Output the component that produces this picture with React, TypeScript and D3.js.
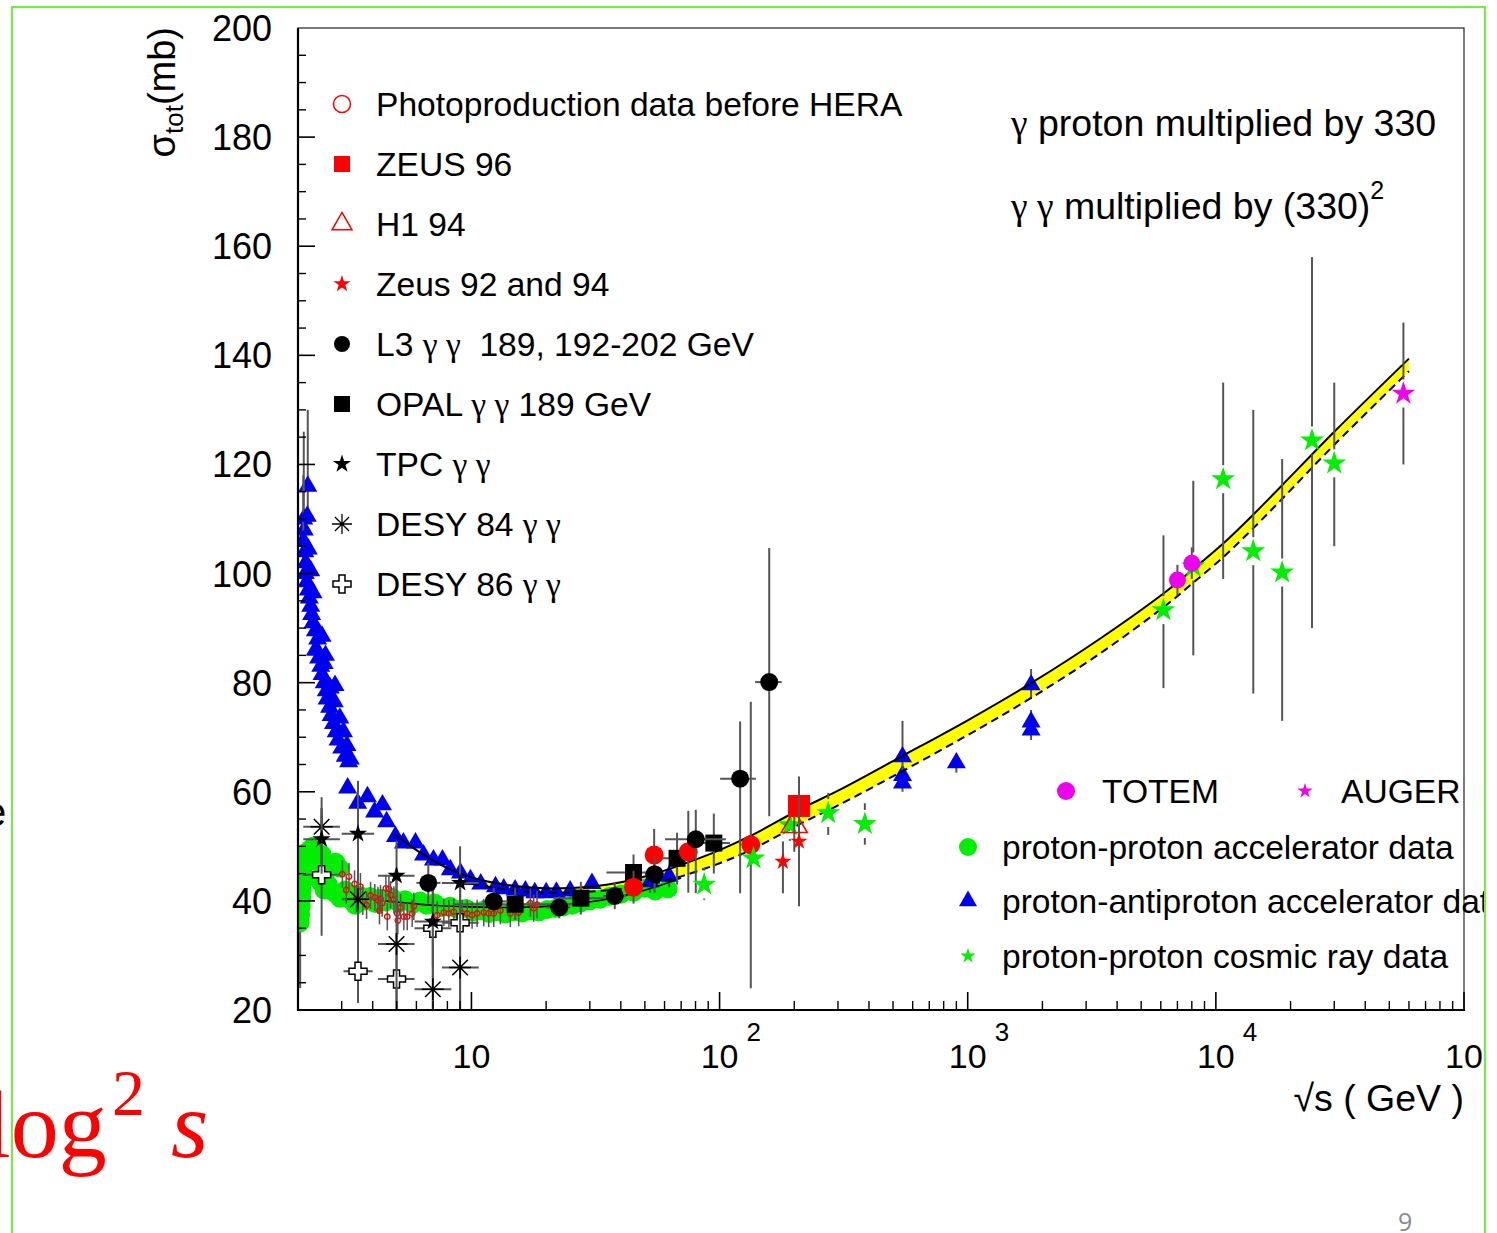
import React from 'react';
import * as d3 from 'd3';

// ---------------- DATA (√s in GeV, σ in mb) ----------------
// proton-proton accelerator data (green circles): [sqrtS, sigma, errLo, errHi]
const ppAccel: number[][] = [
  [2.04, 36.0, 24.0, 38.0], [2.05, 37.5], [2.06, 39.0], [2.07, 40.5], [2.08, 42.0], [2.09, 43.5], [2.1, 45.0],
  [2.12, 46.5], [2.14, 48.0], [2.17, 49.0], [2.2, 47.5], [2.24, 49.5], [2.3, 50.0], [2.36, 48.5], [2.42, 47.0],
  [2.5, 48.5], [2.58, 47.0], [2.7, 46.0], [2.84, 47.1], [2.95, 46.0], [2.45, 43.5], [2.55, 42.0], [2.65, 43.0],
  [2.8, 41.5], [2.95, 40.5], [3.1, 42.0], [3.25, 40.2], [3.4, 39.2], [3.55, 41.0], [3.7, 40.0], [3.9, 40.8],
  [4.1, 39.5], [4.3, 40.5], [4.5, 39.8], [4.8, 40.6], [5.1, 39.6], [5.4, 40.2], [5.8, 39.4], [6.2, 40.0],
  [6.6, 39.2], [7.1, 39.6], [7.6, 38.8], [8.2, 39.0], [8.8, 38.4], [9.5, 38.6], [10.2, 38.0], [11.0, 38.2],
  [11.8, 37.7], [12.7, 38.0], [13.7, 37.6], [14.8, 38.0], [16.0, 37.8], [17.3, 38.2], [18.7, 38.0], [20.2, 38.4],
  [21.8, 38.6], [23.5, 38.9], [25.5, 39.2], [27.5, 39.6], [30.0, 40.0], [33, 40.3], [36, 40.8], [40, 41.2],
  [45, 41.6], [50, 42.3], [55, 41.8], [62, 42.2],
];

// proton-antiproton accelerator data (blue triangles): [sqrtS, sigma, errLo, errHi]
const ppbarAccel: number[][] = [
  [2.19, 116.0, 110, 130], [2.11, 110.0, 100, 126], [2.12, 108.0], [2.1, 106.0, 98, 118], [2.13, 104.0], [2.15, 102.0],
  [2.14, 100.0], [2.17, 98.5], [2.2, 97.0], [2.22, 95.5], [2.25, 94.0], [2.27, 92.5], [2.3, 91.0],
  [2.35, 89.5], [2.4, 88.0], [2.38, 86.0], [2.42, 84.5], [2.47, 83.0], [2.5, 81.5], [2.55, 80.0],
  [2.6, 78.5], [2.62, 77.0], [2.68, 75.5], [2.72, 74.0], [2.78, 72.5], [2.85, 71.0], [2.9, 69.5],
  [3.0, 68.0], [3.1, 66.5], [3.2, 65.5], [2.18, 110.5], [2.2, 104.5], [2.25, 100.5], [2.3, 96.5],
  [2.5, 88.5], [2.35, 86.0], [2.55, 83.5], [2.7, 79.0], [2.8, 76.5], [2.95, 73.5], [3.05, 71.0],
  [3.15, 68.5], [3.25, 66.0], [2.58, 85.0], [2.82, 79.5],
  [3.17, 60.7], [3.48, 57.9], [3.81, 59.1], [4.07, 56.3],
  [4.38, 57.6], [4.55, 54.5], [4.94, 51.8], [5.32, 50.6], [5.95, 50.6], [6.41, 48.4], [7.03, 47.5],
  [7.64, 47.5], [8.22, 45.7], [9.03, 45.1], [9.91, 43.9], [10.9, 43.1], [12.5, 42.6], [13.5, 42.2],
  [15, 42.0], [16.5, 41.8], [18, 41.5], [20, 41.5], [22, 41.6], [25, 41.8], [30.6, 43.2],
  [52.5, 43.5, 41.5, 45.5], [62.6, 44.5, 42.5, 46.5], [546, 61.6, 60, 63.5], [546, 63.0], [546, 66.4, 64, 73],
  [900, 65.3, 63.5, 67], [1800, 79.6, 77, 82.5], [1800, 72.8, 71, 75], [1800, 71.3, 69.5, 73],
];

// proton-proton cosmic ray data (green stars): [sqrtS, sigma, errLo, errHi]
const ppCosmic: number[][] = [
  [86.7, 43.0, 40.2, 46.0], [137, 47.8, 46.0, 50.0], [192, 53.9, 51.0, 57.0], [274, 56.1, 52.1, 59.8],
  [385, 54.1, 50.3, 57.9], [6150, 93.3, 79, 107], [8110, 101.3, 85, 117], [10700, 117.3, 99, 135],
  [14150, 104.1, 78, 130], [18500, 100.2, 73, 121], [24400, 124.4, 90, 158], [30000, 120.2, 105, 135],
];

// TOTEM (magenta circles) and AUGER (magenta star): [sqrtS, sigma, errLo, errHi]
const totem: number[][] = [[7000, 98.8, 96.0, 101.6], [8000, 101.9, 99.0, 104.8]];
const auger: number[][] = [[57000, 133.0, 120, 146]];

// γ proton × 330
const photoBeforeHera: number[][] = [
  [3.02, 44.9], [3.21, 44.45], [3.38, 43.1], [3.57, 42.6], [3.13, 42.0], [3.44, 40.4], [3.65, 39.9],
  [3.78, 39.2], [3.92, 41.0], [4.08, 40.6], [4.2, 40.1], [4.3, 40.4], [4.37, 39.6], [4.52, 42.3],
  [4.65, 42.2], [4.72, 41.1], [4.87, 40.2], [4.26, 38.2], [4.58, 37.1], [5.02, 37.7], [5.05, 36.4],
  [5.18, 38.8], [5.34, 37.1], [5.51, 37.1], [5.77, 37.7], [5.86, 39.0], [7.28, 37.4], [7.74, 37.85],
  [8.11, 37.7], [8.49, 38.0], [9.17, 37.7], [9.61, 37.7], [10.06, 37.4], [10.54, 37.7], [11.21, 37.85],
  [11.74, 37.7], [12.3, 37.7], [13.08, 38.2], [14.35, 37.7], [15.5, 37.85], [17.28, 39.6], [18.38, 39.3],
  [17.82, 38.65],
];
const zeus96: number[][] = [[209, 57.4, 53.0, 62.0]];
const h1_94: number[][] = [[200, 53.9, 49.0, 58.5]];
const zeus92_94: number[][] = [[180, 47.2, 41.4, 50.9], [209, 50.9, 39.0, 62.8]];
const redCircles: number[][] = [[45, 42.5, 39.5, 45.5], [54.5, 48.4, 43.5, 53.2], [74.8, 49.0, 41.5, 56.5], [133.6, 50.3, 24.0, 76.5]];

// γ γ × 330²: [sqrtS, sigma, errLo, errHi, sqrtSLo, sqrtSHi]
const l3: number[][] = [
  [6.7, 43.3, 39.5, 47.0, 6.0, 7.5], [12.3, 39.9, 37.5, 42.3, 11, 14], [22.6, 38.8, 36.8, 40.8, 20, 25],
  [37.8, 40.9, 38.5, 43.3, 34, 42], [54.7, 44.9, 41.5, 48.3, 50, 60], [80.2, 51.3, 41.4, 56.7, 60.3, 106],
  [121, 62.4, 41.4, 72.9, 100.5, 140], [158.5, 80.1, 55.5, 104.7, 139, 178],
];
const opal: number[][] = [
  [15.0, 39.4, 36.5, 42.3, 8.4, 25.7], [27.6, 40.5, 37.5, 43.5, 21.4, 36.2], [45, 45.2, 41.5, 48.5, 35, 55],
  [67.4, 47.8, 43.0, 52.5, 55, 80], [94.8, 50.6, 45.0, 56.0, 80, 110],
];
const tpc: number[][] = [
  [2.49, 51.3, 45, 57, 2.1, 2.95], [3.49, 52.3, 44, 60, 3.0, 4.05], [4.99, 44.6, 38, 51, 4.2, 5.9],
  [6.99, 36.2, 28, 44.5, 5.9, 8.3], [9.0, 43.3, 36, 50, 7.6, 10.7],
];
const desy84: number[][] = [
  [2.49, 53.6, 47, 59, 2.1, 2.95], [3.49, 40.3, 30, 62, 3.0, 4.05], [4.99, 32.1, 20, 45.8, 4.2, 5.9],
  [6.99, 23.8, 10, 40, 5.9, 8.3], [9.0, 27.8, 10, 45.8, 7.6, 10.7],
];
const desy86: number[][] = [
  [2.49, 44.8, 33.6, 57, 2.1, 2.95], [3.49, 27.1, 21.3, 36, 3.05, 4.0], [4.99, 25.7, 18, 34, 4.2, 5.9],
  [6.99, 35.0, 20, 44.5, 5.9, 8.3], [9.0, 36.0, 20, 45.8, 7.6, 10.7],
];

// Fit curves
const fitSqrtS = [10, 14, 18, 23, 30, 40, 53, 70, 100, 133, 211, 300, 532, 1000, 1800, 3400, 6300, 8000, 10700, 14000, 18500, 30000, 60000];
const fitUpper = [44.3, 42.9, 42.4, 42.3, 42.6, 43.4, 44.8, 46.6, 49.3, 51.9, 56.8, 60.2, 66.3, 73.1, 79.9, 88.0, 96.7, 100.6, 105.5, 110.6, 116.2, 126.0, 139.4];
const fitLower = [43.2, 42.0, 41.6, 41.5, 41.7, 42.2, 43.1, 44.5, 46.9, 49.3, 54.1, 57.5, 63.5, 70.4, 77.2, 85.3, 94.2, 98.1, 103.0, 108.1, 113.7, 123.6, 137.1];
const ppbarLowSqrtS = [4.9, 5.5, 6.6, 8];
const ppbarLowSigma = [52.2, 50.5, 48.1, 46.0];
const ppLowSqrtS = [4.5, 5.5, 7, 10, 14, 20, 28, 40, 53, 70];
const ppLowSigma = [40.0, 39.6, 39.2, 38.9, 38.8, 39.0, 39.6, 40.8, 42.3, 44.2];

// Axis ticks
const yTicks = [20, 40, 60, 80, 100, 120, 140, 160, 180, 200];
const xDecades = [1, 2, 3, 4, 5];

// ---------------- LAYOUT ----------------
const W = 1497, H = 1233;
const L = 298, R = 1464, T = 28, B = 1010;
const x = d3.scaleLog().domain([2, 1e5]).range([L, R]);
const y = d3.scaleLinear().domain([20, 200]).range([B, T]);

const FONT = "'Liberation Sans', Arial, Helvetica, sans-serif";
const SERIF = "'Liberation Serif', 'Times New Roman', serif";
const ERR = '#555';

const sym = (type: d3.SymbolType, size: number) => d3.symbol().type(type).size(size)() as string;
const circ = (r: number) => sym(d3.symbolCircle, Math.PI * r * r);
const sq = (s: number) => sym(d3.symbolSquare, s * s);
const tri = (side: number) => sym(d3.symbolTriangle, (Math.sqrt(3) / 4) * side * side);
const star = (R0: number) => sym(d3.symbolStar, (R0 * R0) / 0.8908130915292852);
const cross = (w: number) => sym(d3.symbolCross, Math.pow(w / 3, 2) * 5);
const asterisk = (r: number) => {
  const a = r * 0.7071;
  return `M${-r},0L${r},0M0,${-r}L0,${r}M${-a},${-a}L${a},${a}M${-a},${a}L${a},${-a}`;
};

type MarkerStyle = { d: string; fill: string; stroke?: string; sw?: number };

function Series({ data, m, gap = 0, errW = 2 }: { data: number[][]; m: MarkerStyle; gap?: number; errW?: number }) {
  return (
    <g>
      {data.map((p, i) => {
        const cx = x(p[0]), cy = y(p[1]);
        const parts: JSX.Element[] = [];
        if (p.length >= 4) {
          const y1 = y(p[2]), y2 = y(p[3]);
          if (gap > 0) {
            if (y1 > cy + gap) parts.push(<line key="a" x1={cx} x2={cx} y1={cy + gap} y2={y1} stroke={ERR} strokeWidth={errW} />);
            if (y2 < cy - gap) parts.push(<line key="b" x1={cx} x2={cx} y1={y2} y2={cy - gap} stroke={ERR} strokeWidth={errW} />);
          } else {
            parts.push(<line key="a" x1={cx} x2={cx} y1={y1} y2={y2} stroke={ERR} strokeWidth={errW} />);
          }
        }
        if (p.length >= 6) {
          parts.push(<line key="c" x1={x(p[4])} x2={x(p[5])} y1={cy} y2={cy} stroke={ERR} strokeWidth={errW} />);
        }
        return (
          <g key={i}>
            {parts}
            <path d={m.d} transform={`translate(${cx},${cy})`} fill={m.fill} stroke={m.stroke || 'none'} strokeWidth={m.sw || 0} />
          </g>
        );
      })}
    </g>
  );
}

function Marker({ cx, cy, m }: { cx: number; cy: number; m: MarkerStyle }) {
  return <path d={m.d} transform={`translate(${cx},${cy})`} fill={m.fill} stroke={m.stroke || 'none'} strokeWidth={m.sw || 0} />;
}

const M = {
  green: { d: circ(9.5), fill: '#00ee00' },
  blue: { d: tri(19), fill: '#0000ee' },
  cosmic: { d: star(12.5), fill: '#00ee00' },
  totem: { d: circ(8.5), fill: '#ee00ee' },
  auger: { d: star(12.5), fill: '#ee00ee' },
  photo: { d: circ(2.7), fill: 'none', stroke: '#ff0000', sw: 1.4 },
  zeus96: { d: sq(22), fill: '#ff0000' },
  h1: { d: tri(26), fill: 'none', stroke: '#ff0000', sw: 1.6 },
  zeusStar: { d: star(9), fill: '#ff0000' },
  redCirc: { d: circ(9.5), fill: '#ff0000' },
  l3: { d: circ(9), fill: '#000' },
  opal: { d: sq(17), fill: '#000' },
  tpc: { d: star(9.5), fill: '#000' },
  desy84: { d: asterisk(11), fill: 'none', stroke: '#000', sw: 1.5 },
  desy86: { d: cross(18), fill: '#fff', stroke: '#000', sw: 1.5 },
};

const LM = {
  photo: { d: circ(8.5), fill: 'none', stroke: '#ff0000', sw: 1.5 },
  zeus96: { d: sq(16), fill: '#ff0000' },
  h1: { d: tri(20), fill: 'none', stroke: '#ff0000', sw: 1.5 },
  zeusStar: { d: star(9), fill: '#ff0000' },
  l3: { d: circ(8), fill: '#000' },
  opal: { d: sq(16), fill: '#000' },
  tpc: { d: star(9.5), fill: '#000' },
  desy84: { d: asterisk(10), fill: 'none', stroke: '#000', sw: 1.3 },
  desy86: { d: cross(18), fill: '#fff', stroke: '#000', sw: 1.5 },
  totem: { d: circ(9), fill: '#ee00ee' },
  auger: { d: star(8), fill: '#ee00ee' },
  green: { d: circ(9), fill: '#00ee00' },
  blue: { d: tri(18), fill: '#0000ee' },
  cosmic: { d: star(8), fill: '#00ee00' },
};

export default function App() {
  const band = d3
    .area<number>()
    .x((_, i) => x(fitSqrtS[i]))
    .y0((_, i) => y(fitLower[i]))
    .y1((_, i) => y(fitUpper[i]))
    .curve(d3.curveCatmullRom)(fitSqrtS) as string;
  const line = d3
    .line<[number, number]>()
    .x((d) => x(d[0]))
    .y((d) => y(d[1]))
    .curve(d3.curveCatmullRom);
  const upperPts: [number, number][] = [
    ...ppbarLowSqrtS.map((s, i) => [s, ppbarLowSigma[i]] as [number, number]),
    ...fitSqrtS.map((s, i) => [s, fitUpper[i]] as [number, number]),
  ];
  const lowerPts: [number, number][] = fitSqrtS.map((s, i) => [s, fitLower[i]]);
  const ppPts: [number, number][] = ppLowSqrtS.map((s, i) => [s, ppLowSigma[i]]);

  // ticks
  const xMinor: number[] = [];
  for (let k = 0; k <= 4; k++) for (let m = 2; m <= 9; m++) {
    const v = m * Math.pow(10, k);
    if (v >= 2 && v <= 1e5) xMinor.push(v);
  }
  const yMinor = d3.range(20, 201, 5).filter((v) => v % 20 !== 0);

  const leftLegend: [MarkerStyle, React.ReactNode][] = [
    [LM.photo, 'Photoproduction data before HERA'],
    [LM.zeus96, 'ZEUS 96'],
    [LM.h1, 'H1 94'],
    [LM.zeusStar, 'Zeus 92 and 94'],
    [LM.l3, <>L3 <tspan fontFamily={SERIF}>γ γ</tspan>{'\u00a0 189, 192-202 GeV'}</>],
    [LM.opal, <>OPAL <tspan fontFamily={SERIF}>γ γ</tspan> 189 GeV</>],
    [LM.tpc, <>TPC <tspan fontFamily={SERIF}>γ γ</tspan></>],
    [LM.desy84, <>DESY 84 <tspan fontFamily={SERIF}>γ γ</tspan></>],
    [LM.desy86, <>DESY 86 <tspan fontFamily={SERIF}>γ γ</tspan></>],
  ];

  return (
    <svg width={W} height={H} style={{ position: 'absolute', left: 0, top: 0, background: '#fff' }} fontFamily={FONT}>
      <defs>
        <clipPath id="slide"><rect x={-100} y={0} width={1586} height={H} /></clipPath>
        <clipPath id="frame"><rect x={L} y={T} width={R - L} height={B - T} /></clipPath>
      </defs>
      <rect width={W} height={H} fill="#fff" />
      <g clipPath="url(#slide)">
        {/* plot content */}
        <g clipPath="url(#frame)">
          <path d={band} fill="#ffff00" />
          <Series data={ppAccel} m={M.green} />
          <Series data={ppbarAccel} m={M.blue} />
          <path d={line(upperPts) as string} fill="none" stroke="#000" strokeWidth={2} />
          <path d={line(lowerPts) as string} fill="none" stroke="#000" strokeWidth={2} strokeDasharray="8,5" />
          <path d={line(ppPts) as string} fill="none" stroke="#000" strokeWidth={1.6} />
          <Series data={photoBeforeHera.map((p) => [p[0], p[1], p[1] - 2.5, p[1] + 2.5])} m={M.photo} errW={1.5} />
          <Series data={desy86} m={M.desy86} />
          <Series data={desy84} m={M.desy84} />
          <Series data={tpc} m={M.tpc} />
          <Series data={opal} m={M.opal} />
          <Series data={redCircles} m={M.redCirc} />
          <Series data={l3} m={M.l3} />
          <Series data={ppCosmic} m={M.cosmic} gap={14} />
          <Series data={h1_94} m={M.h1} />
          <Series data={zeus96} m={M.zeus96} />
          <Series data={zeus92_94} m={M.zeusStar} />
          <Series data={totem} m={M.totem} />
          <Series data={auger} m={M.auger} gap={14} />
        </g>

        {/* frame */}
        <rect x={L} y={T} width={R - L} height={B - T} fill="none" stroke="#222" strokeWidth={1.2} />
        <line x1={L} x2={L} y1={T} y2={B + 1} stroke="#000" strokeWidth={2.2} />
        <line x1={L - 1} x2={R + 1} y1={B} y2={B} stroke="#000" strokeWidth={2.2} />

        {/* y ticks */}
        {yTicks.map((v) => (
          <g key={'yt' + v}>
            {v > 20 && v < 200 && <line x1={L} x2={L + 17} y1={y(v)} y2={y(v)} stroke="#000" strokeWidth={1.6} />}
            <text x={272} y={y(v) + 13} fontSize={36} textAnchor="end">{v}</text>
          </g>
        ))}
        {yMinor.map((v) => (
          <line key={'ym' + v} x1={L} x2={L + 8} y1={y(v)} y2={y(v)} stroke="#000" strokeWidth={1.4} />
        ))}

        {/* x ticks */}
        {xDecades.map((k) => {
          const px = x(Math.pow(10, k));
          return (
            <g key={'xt' + k}>
              <line x1={px} x2={px} y1={B} y2={B - 18} stroke="#000" strokeWidth={1.6} />
              <text x={px} y={1068} fontSize={34} textAnchor="middle">10</text>
              {k > 1 && <text x={px + 27} y={1041} fontSize={26}>{k}</text>}
            </g>
          );
        })}
        {xMinor.map((v) => (
          <line key={'xm' + v} x1={x(v)} x2={x(v)} y1={B} y2={B - 9} stroke="#000" strokeWidth={1.4} />
        ))}

        {/* axis titles */}
        <text transform={`translate(175,27) rotate(-90)`} textAnchor="end" fontSize={38}>
          σ<tspan fontSize={26} dy={8}>tot</tspan><tspan dy={-8}>(mb)</tspan>
        </text>
        <text x={1464} y={1111} fontSize={37.5} textAnchor="end">√s ( GeV )</text>

        {/* left legend */}
        {leftLegend.map(([m, label], i) => {
          const cy = 104 + i * 60;
          return (
            <g key={'ll' + i}>
              <Marker cx={342} cy={cy} m={m} />
              <text x={376} y={cy + 12} fontSize={33.6}>{label}</text>
            </g>
          );
        })}

        {/* top-right notes */}
        <text x={1011} y={136} fontSize={37.5}><tspan fontFamily={SERIF}>γ</tspan> proton multiplied by 330</text>
        <text x={1011} y={219} fontSize={37.5}>
          <tspan fontFamily={SERIF}>γ γ</tspan> multiplied by (330)<tspan fontSize={25} dy={-20}>2</tspan>
        </text>

        {/* bottom-right legend */}
        <Marker cx={1066} cy={791} m={LM.totem} />
        <text x={1102} y={803} fontSize={33.6}>TOTEM</text>
        <Marker cx={1305} cy={791} m={LM.auger} />
        <text x={1341} y={803} fontSize={33.6}>AUGER</text>
        <Marker cx={968} cy={847} m={LM.green} />
        <text x={1002} y={859} fontSize={33.6}>proton-proton accelerator data</text>
        <Marker cx={968} cy={901} m={LM.blue} />
        <text x={1002} y={913} fontSize={33.6}>proton-antiproton accelerator data</text>
        <Marker cx={968} cy={956} m={LM.cosmic} />
        <text x={1002} y={968} fontSize={33.6}>proton-proton cosmic ray data</text>

        {/* slide decorations */}
        <text x={-16} y={826} fontSize={40}>e</text>
        <text fill="#ff0000" fontFamily={SERIF}>
          <tspan x={-16} y={1157} fontSize={96}>log</tspan>
          <tspan x={112} y={1115} fontSize={66}>2</tspan>
          <tspan x={171} y={1157} fontSize={96} fontStyle="italic">s</tspan>
        </text>
        <text x={1398} y={1231} fontSize={25} fill="#8c8c8c" fontFamily="'Open Sans', 'Liberation Sans', sans-serif">9</text>
      </g>

      {/* slide border */}
      <polyline points={`12,${H} 12,7 1485,7 1485,${H}`} fill="none" stroke="#6ef03c" strokeWidth={2} />
    </svg>
  );
}
